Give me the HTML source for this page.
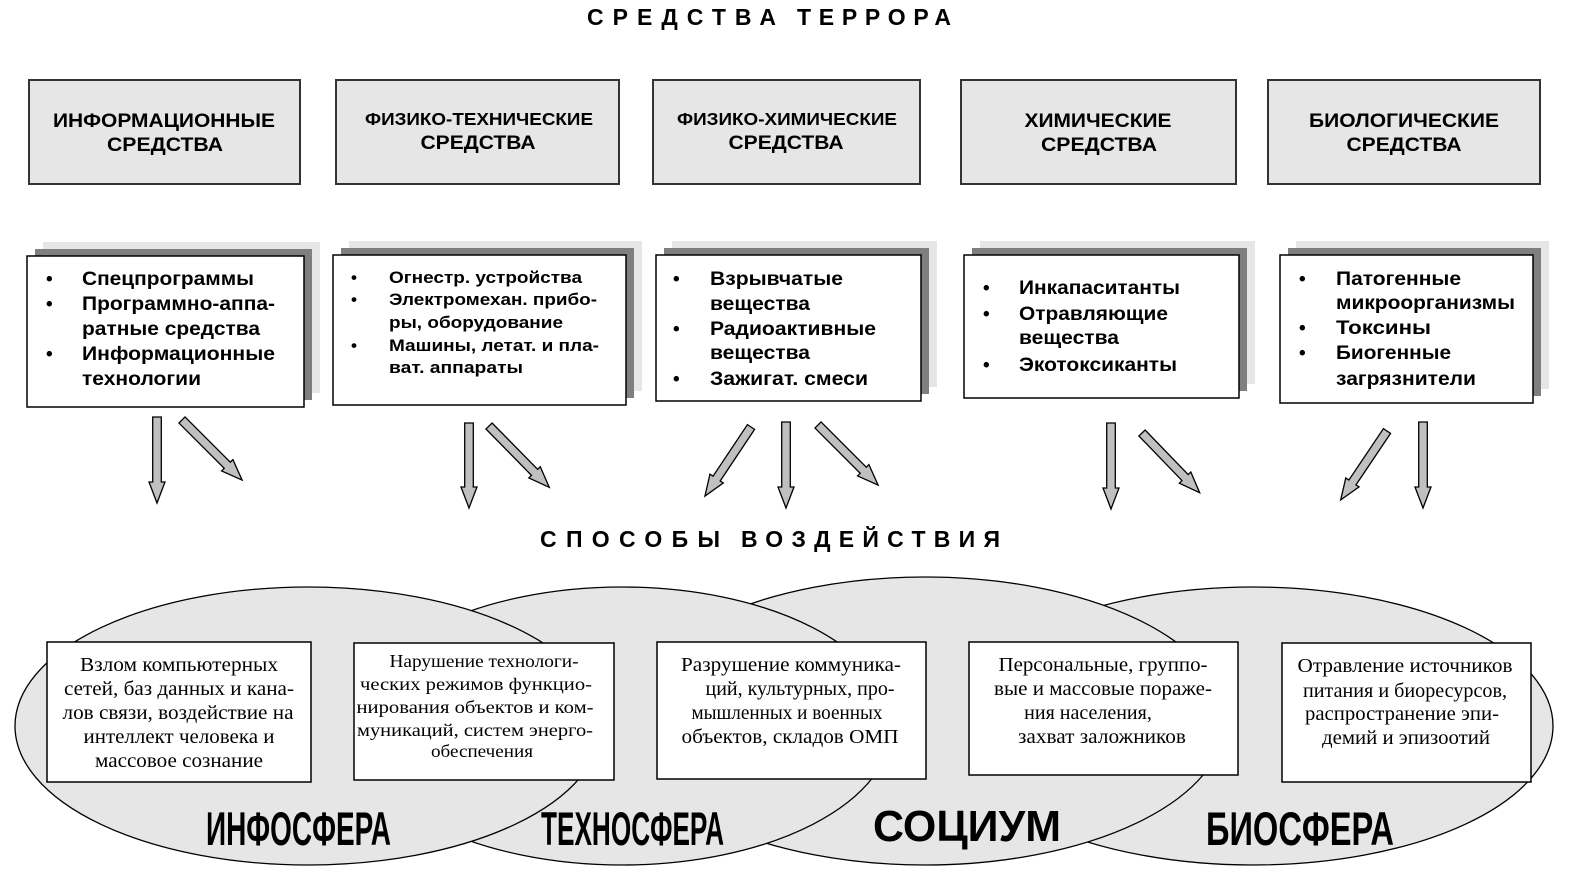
<!DOCTYPE html>
<html><head><meta charset="utf-8">
<style>
html,body{margin:0;padding:0;background:#fff;}
svg{display:block;}
.t{font-family:"Liberation Sans",Arial,sans-serif;font-weight:bold;fill:#000;}
.s{font-family:"Liberation Serif","Times New Roman",serif;fill:#000;}
.ar polygon{fill:#c0c0c0;stroke:#000;stroke-width:1.3;stroke-linejoin:miter;}
</style></head><body>
<svg width="1581" height="889" viewBox="0 0 1581 889" xmlns="http://www.w3.org/2000/svg">
<rect x="0" y="0" width="1581" height="889" fill="#fff"/>

<!-- Title -->
<text class="t" x="587" y="25" font-size="23" textLength="189">СРЕДСТВА</text>
<text class="t" x="797" y="25" font-size="23" textLength="154">ТЕРРОРА</text>

<!-- Top boxes -->
<g fill="#e6e6e6" stroke="#333" stroke-width="2">
<rect x="29" y="80" width="271" height="104"/>
<rect x="336" y="80" width="283" height="104"/>
<rect x="653" y="80" width="267" height="104"/>
<rect x="961" y="80" width="275" height="104"/>
<rect x="1268" y="80" width="272" height="104"/>
</g>
<g class="t" text-anchor="middle">
<text x="164" y="127" font-size="19" textLength="222" lengthAdjust="spacingAndGlyphs">ИНФОРМАЦИОННЫЕ</text>
<text x="165" y="151" font-size="19" textLength="116" lengthAdjust="spacingAndGlyphs">СРЕДСТВА</text>
<text x="479" y="125" font-size="17.5" textLength="228" lengthAdjust="spacingAndGlyphs">ФИЗИКО-ТЕХНИЧЕСКИЕ</text>
<text x="478" y="149" font-size="19" textLength="115" lengthAdjust="spacingAndGlyphs">СРЕДСТВА</text>
<text x="787" y="125" font-size="17.5" textLength="220" lengthAdjust="spacingAndGlyphs">ФИЗИКО-ХИМИЧЕСКИЕ</text>
<text x="786" y="149" font-size="19" textLength="115" lengthAdjust="spacingAndGlyphs">СРЕДСТВА</text>
<text x="1098" y="127" font-size="19" textLength="147" lengthAdjust="spacingAndGlyphs">ХИМИЧЕСКИЕ</text>
<text x="1099" y="151" font-size="19" textLength="116" lengthAdjust="spacingAndGlyphs">СРЕДСТВА</text>
<text x="1404" y="127" font-size="19" textLength="190" lengthAdjust="spacingAndGlyphs">БИОЛОГИЧЕСКИЕ</text>
<text x="1404" y="151" font-size="19" textLength="115" lengthAdjust="spacingAndGlyphs">СРЕДСТВА</text>
</g>

<!-- Bullet boxes with 3D shadows -->
<g>
<rect x="43" y="242" width="277" height="151" fill="#e6e6e6"/>
<rect x="35" y="249" width="277" height="151" fill="#7f7f7f"/>
<rect x="27" y="256" width="277" height="151" fill="#fff" stroke="#000" stroke-width="1.5"/>

<rect x="349" y="241" width="293" height="150" fill="#e6e6e6"/>
<rect x="341" y="248" width="293" height="150" fill="#7f7f7f"/>
<rect x="333" y="255" width="293" height="150" fill="#fff" stroke="#000" stroke-width="1.5"/>

<rect x="672" y="241" width="265" height="146" fill="#e6e6e6"/>
<rect x="664" y="248" width="265" height="146" fill="#7f7f7f"/>
<rect x="656" y="255" width="265" height="146" fill="#fff" stroke="#000" stroke-width="1.5"/>

<rect x="980" y="241" width="275" height="143" fill="#e6e6e6"/>
<rect x="972" y="248" width="275" height="143" fill="#7f7f7f"/>
<rect x="964" y="255" width="275" height="143" fill="#fff" stroke="#000" stroke-width="1.5"/>

<rect x="1296" y="241" width="253" height="148" fill="#e6e6e6"/>
<rect x="1288" y="248" width="253" height="148" fill="#7f7f7f"/>
<rect x="1280" y="255" width="253" height="148" fill="#fff" stroke="#000" stroke-width="1.5"/>
</g>

<!-- Bullet texts -->
<g class="t" font-size="19">
<text x="46" y="285">•</text><text x="82" y="285" textLength="172" lengthAdjust="spacingAndGlyphs">Спецпрограммы</text>
<text x="46" y="310">•</text><text x="82" y="310" textLength="193" lengthAdjust="spacingAndGlyphs">Программно-аппа-</text>
<text x="82" y="335" textLength="178" lengthAdjust="spacingAndGlyphs">ратные средства</text>
<text x="46" y="360">•</text><text x="82" y="360" textLength="193" lengthAdjust="spacingAndGlyphs">Информационные</text>
<text x="82" y="385" textLength="119" lengthAdjust="spacingAndGlyphs">технологии</text>
</g>
<g class="t" font-size="17">
<text x="351" y="283">•</text><text x="389" y="283" textLength="193" lengthAdjust="spacingAndGlyphs">Огнестр. устройства</text>
<text x="351" y="305">•</text><text x="389" y="305" textLength="208" lengthAdjust="spacingAndGlyphs">Электромехан. прибо-</text>
<text x="389" y="328" textLength="174" lengthAdjust="spacingAndGlyphs">ры, оборудование</text>
<text x="351" y="351">•</text><text x="389" y="351" textLength="210" lengthAdjust="spacingAndGlyphs">Машины, летат. и пла-</text>
<text x="389" y="373" textLength="134" lengthAdjust="spacingAndGlyphs">ват. аппараты</text>
</g>
<g class="t" font-size="19">
<text x="673" y="285">•</text><text x="710" y="285" textLength="133" lengthAdjust="spacingAndGlyphs">Взрывчатые</text>
<text x="710" y="310" textLength="100" lengthAdjust="spacingAndGlyphs">вещества</text>
<text x="673" y="335">•</text><text x="710" y="335" textLength="166" lengthAdjust="spacingAndGlyphs">Радиоактивные</text>
<text x="710" y="359" textLength="100" lengthAdjust="spacingAndGlyphs">вещества</text>
<text x="673" y="385">•</text><text x="710" y="385" textLength="158" lengthAdjust="spacingAndGlyphs">Зажигат. смеси</text>

<text x="983" y="294">•</text><text x="1019" y="294" textLength="161" lengthAdjust="spacingAndGlyphs">Инкапаситанты</text>
<text x="983" y="320">•</text><text x="1019" y="320" textLength="149" lengthAdjust="spacingAndGlyphs">Отравляющие</text>
<text x="1019" y="344" textLength="100" lengthAdjust="spacingAndGlyphs">вещества</text>
<text x="983" y="371">•</text><text x="1019" y="371" textLength="158" lengthAdjust="spacingAndGlyphs">Экотоксиканты</text>

<text x="1299" y="285">•</text><text x="1336" y="285" textLength="125" lengthAdjust="spacingAndGlyphs">Патогенные</text>
<text x="1336" y="309" textLength="179" lengthAdjust="spacingAndGlyphs">микроорганизмы</text>
<text x="1299" y="334">•</text><text x="1336" y="334" textLength="95" lengthAdjust="spacingAndGlyphs">Токсины</text>
<text x="1299" y="359">•</text><text x="1336" y="359" textLength="115" lengthAdjust="spacingAndGlyphs">Биогенные</text>
<text x="1336" y="385" textLength="140" lengthAdjust="spacingAndGlyphs">загрязнители</text>
</g>

<!-- Arrows -->
<g class="ar">
<g transform="translate(157,417) rotate(90)"><polygon points="0,-4.3 65,-4.3 65,-8 86,0 65,8 65,4.3 0,4.3"/></g>
<g transform="translate(182,420) rotate(45)"><polygon points="0,-4.3 64,-4.3 64,-8 85,0 64,8 64,4.3 0,4.3"/></g>
<g transform="translate(469,423) rotate(90)"><polygon points="0,-4.3 64,-4.3 64,-8 85,0 64,8 64,4.3 0,4.3"/></g>
<g transform="translate(489,426) rotate(45.5)"><polygon points="0,-4.3 65,-4.3 65,-8 86,0 65,8 65,4.3 0,4.3"/></g>
<g transform="translate(751,427) rotate(123.7)"><polygon points="0,-4.3 62,-4.3 62,-8 83,0 62,8 62,4.3 0,4.3"/></g>
<g transform="translate(786,422) rotate(90)"><polygon points="0,-4.3 65,-4.3 65,-8 86,0 65,8 65,4.3 0,4.3"/></g>
<g transform="translate(818,425) rotate(45)"><polygon points="0,-4.3 64,-4.3 64,-8 85,0 64,8 64,4.3 0,4.3"/></g>
<g transform="translate(1111,423) rotate(90)"><polygon points="0,-4.3 65,-4.3 65,-8 86,0 65,8 65,4.3 0,4.3"/></g>
<g transform="translate(1142,433) rotate(46)"><polygon points="0,-4.3 62,-4.3 62,-8 83,0 62,8 62,4.3 0,4.3"/></g>
<g transform="translate(1387,431) rotate(123.9)"><polygon points="0,-4.3 62,-4.3 62,-8 83,0 62,8 62,4.3 0,4.3"/></g>
<g transform="translate(1423,422) rotate(90)"><polygon points="0,-4.3 65,-4.3 65,-8 86,0 65,8 65,4.3 0,4.3"/></g>
</g>

<!-- Subtitle -->
<text class="t" x="540" y="547" font-size="23" textLength="180">СПОСОБЫ</text>
<text class="t" x="741" y="547" font-size="23" textLength="259">ВОЗДЕЙСТВИЯ</text>

<!-- Ellipses (E4 bottom, E1 top) -->
<g fill="#e6e6e6" stroke="#000" stroke-width="1.3">
<ellipse cx="1253" cy="726" rx="300" ry="139"/>
<ellipse cx="925" cy="721" rx="300" ry="144"/>
<ellipse cx="622" cy="726" rx="270" ry="139"/>
<ellipse cx="308" cy="726" rx="293" ry="139"/>
</g>

<!-- Bottom boxes -->
<g fill="#fff" stroke="#000" stroke-width="1.5">
<rect x="47" y="642" width="264" height="140"/>
<rect x="354" y="643" width="260" height="137"/>
<rect x="657" y="642" width="269" height="137"/>
<rect x="969" y="642" width="269" height="133"/>
<rect x="1282" y="643" width="249" height="139"/>
</g>

<g class="s" font-size="20" text-anchor="middle">
<text x="179" y="671" textLength="198" lengthAdjust="spacingAndGlyphs">Взлом компьютерных</text>
<text x="179" y="695" textLength="230" lengthAdjust="spacingAndGlyphs">сетей, баз данных и кана-</text>
<text x="178" y="719" textLength="231" lengthAdjust="spacingAndGlyphs">лов связи, воздействие на</text>
<text x="179" y="743" textLength="191" lengthAdjust="spacingAndGlyphs">интеллект человека и</text>
<text x="179" y="767" textLength="168" lengthAdjust="spacingAndGlyphs">массовое сознание</text>

<text x="791" y="671" textLength="220" lengthAdjust="spacingAndGlyphs">Разрушение коммуника-</text>
<text x="800" y="695">ций, культурных, про-</text>
<text x="787" y="719" textLength="191" lengthAdjust="spacingAndGlyphs">мышленных и военных</text>
<text x="790" y="743" textLength="217" lengthAdjust="spacingAndGlyphs">объектов, складов ОМП</text>

<text x="1103" y="671" textLength="209" lengthAdjust="spacingAndGlyphs">Персональные, группо-</text>
<text x="1103" y="695" textLength="218" lengthAdjust="spacingAndGlyphs">вые и массовые пораже-</text>
<text x="1088" y="719">ния населения,</text>
<text x="1102" y="743" textLength="168" lengthAdjust="spacingAndGlyphs">захват заложников</text>

<text x="1405" y="672" textLength="215" lengthAdjust="spacingAndGlyphs">Отравление источников</text>
<text x="1405" y="697" textLength="204" lengthAdjust="spacingAndGlyphs">питания и биоресурсов,</text>
<text x="1402" y="720" textLength="194" lengthAdjust="spacingAndGlyphs">распространение эпи-</text>
<text x="1406" y="744" textLength="168" lengthAdjust="spacingAndGlyphs">демий и эпизоотий</text>
</g>
<g class="s" font-size="17.5" text-anchor="middle">
<text x="484" y="667" textLength="189" lengthAdjust="spacingAndGlyphs">Нарушение технологи-</text>
<text x="476" y="690" textLength="232" lengthAdjust="spacingAndGlyphs">ческих режимов функцио-</text>
<text x="475" y="713" textLength="237" lengthAdjust="spacingAndGlyphs">нирования объектов и ком-</text>
<text x="475" y="736" textLength="236" lengthAdjust="spacingAndGlyphs">муникаций, систем энерго-</text>
<text x="482" y="757" textLength="102" lengthAdjust="spacingAndGlyphs">обеспечения</text>
</g>

<!-- Big sphere labels -->
<g class="t">
<text x="206" y="845" font-size="47" textLength="185" lengthAdjust="spacingAndGlyphs">ИНФОСФЕРА</text>
<text x="541" y="845" font-size="47" textLength="183" lengthAdjust="spacingAndGlyphs">ТЕХНОСФЕРА</text>
<text x="873" y="841" font-size="44" textLength="188" lengthAdjust="spacingAndGlyphs">СОЦИУМ</text>
<text x="1206" y="845" font-size="47" textLength="188" lengthAdjust="spacingAndGlyphs">БИОСФЕРА</text>
</g>
</svg>
</body></html>
